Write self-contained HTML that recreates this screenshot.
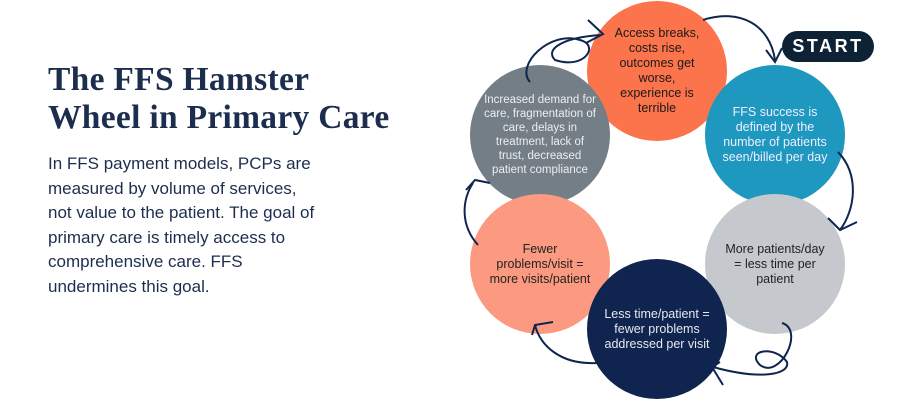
<!DOCTYPE html>
<html><head><meta charset="utf-8"><style>
body{margin:0;width:900px;height:400px;background:#fff;overflow:hidden;position:relative;font-family:"Liberation Sans",sans-serif}
h1{position:absolute;left:48px;top:61px;margin:0;font-family:"Liberation Serif",serif;font-weight:bold;font-size:33.5px;line-height:38px;color:#1d2d4d;letter-spacing:0.3px}
p{position:absolute;left:48px;top:152px;margin:0;width:320px;font-size:17px;line-height:24.5px;color:#1d2d4d}
.c{position:absolute;width:140px;height:140px;border-radius:50%;display:flex;align-items:center;justify-content:center;text-align:center;font-size:12.5px;line-height:15px}
.start{position:absolute;left:782px;top:31px;width:92px;height:31px;border-radius:16px;background:#0e2235;color:#fff;font-weight:bold;font-size:18px;letter-spacing:2.5px;display:flex;align-items:center;justify-content:center}
svg{position:absolute;left:0;top:0}
</style></head><body>
<h1>The FFS Hamster<br>Wheel in Primary Care</h1>
<p>In FFS payment models, PCPs are<br>measured by volume of services,<br>not value to the patient. The goal of<br>primary care is timely access to<br>comprehensive care. FFS<br>undermines this goal.</p>
<div class="c" style="left:587px;top:1px;background:#fc744b;color:#1a1a1a"><div>Access breaks,<br>costs rise,<br>outcomes get<br>worse,<br>experience is<br>terrible</div></div>
<div class="c" style="left:705px;top:65px;background:#1f98c0;color:#eef"><div>FFS success is<br>defined by the<br>number of patients<br>seen/billed per day</div></div>
<div class="c" style="left:470px;top:65px;background:#737e87;color:#eee;font-size:11.5px;line-height:14px"><div>Increased demand for<br>care, fragmentation of<br>care, delays in<br>treatment, lack of<br>trust, decreased<br>patient compliance</div></div>
<div class="c" style="left:470px;top:194px;background:#fb9a80;color:#222"><div>Fewer<br>problems/visit =<br>more visits/patient</div></div>
<div class="c" style="left:705px;top:194px;background:#c5c8cc;color:#222"><div>More patients/day<br>= less time per<br>patient</div></div>
<div class="c" style="left:587px;top:259px;background:#0f2550;color:#e8e8ee"><div>Less time/patient =<br>fewer problems<br>addressed per visit</div></div>
<div class="start">START</div>
<svg width="900" height="400" fill="none" stroke="#0f2550" stroke-width="2">
<path d="M703 20 C740 8 770 25 775 60"/><path d="M766 50 L775 62 L782 48"/>
<path d="M838 152 C860 175 855 210 840 230"/><path d="M828 218 L840 230 L857 222"/>
<path d="M782 323 C805 330 780 380 760 365 C745 350 775 345 787 362 C790 375 760 380 713 367"/><path d="M720 362 L712 367 L723 385"/>
<path d="M597 363 C560 365 540 345 535 325"/><path d="M532 335 L535 325 L553 322"/>
<path d="M478 245 C460 225 462 200 473 183"/><path d="M466 190 L475 180 L490 183"/>
<path d="M530 82 C515 65 550 30 580 40 C600 45 585 70 555 60 C545 50 560 38 600 35"/><path d="M588 20 L603 34 L586 43"/>
</svg>
</body></html>
